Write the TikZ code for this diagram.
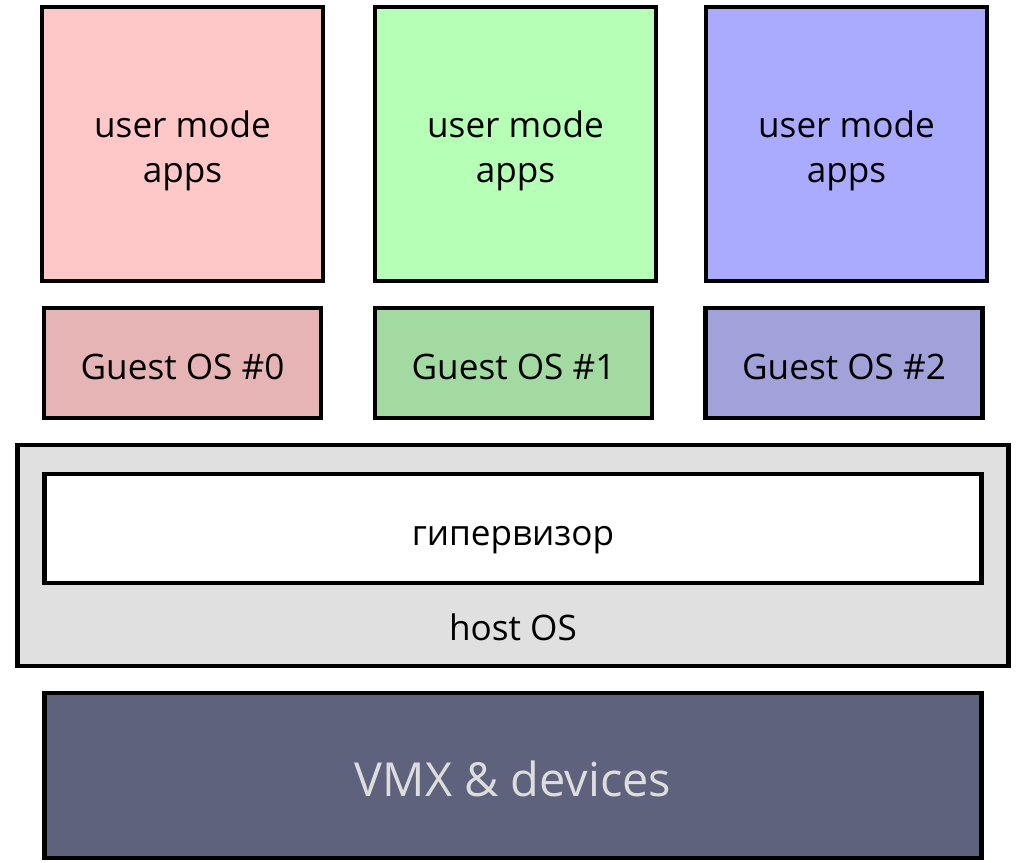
\documentclass[tikz,border=0pt]{standalone}
\usepackage{fontspec}
\setmainfont{Open Sans}
\definecolor{apps0}{RGB}{255,200,200}
\definecolor{apps1}{RGB}{182,255,182}
\definecolor{apps2}{RGB}{170,170,255}
\definecolor{guest0}{RGB}{230,180,180}
\definecolor{guest1}{RGB}{162,218,162}
\definecolor{guest2}{RGB}{162,162,218}
\definecolor{hostgray}{RGB}{224,224,224}
\definecolor{vmxblue}{RGB}{95,98,124}
\definecolor{vmxtext}{RGB}{221,221,221}
\begin{document}
\begin{tikzpicture}[x=0.02cm, y=-0.02cm,
  box/.style={draw=black, line width=2.8pt, inner sep=0pt, align=center, font=\fontsize{20}{25.6}\selectfont},
  linebox/.style={box, text height=18.8pt, text depth=0pt},
  appsbox/.style={box, minimum width=5.62cm, minimum height=5.48cm},
  guestbox/.style={linebox, minimum width=5.54cm, minimum height=2.2cm}]
\useasboundingbox (0,0) rectangle (1024,862);

\node[appsbox, fill=apps0] (apps0) at (182.5,144) {\rule{0pt}{1.15em}user mode\\apps};
\node[appsbox, fill=apps1] (apps1) at (515.5,144) {\rule{0pt}{1.15em}user mode\\apps};
\node[appsbox, fill=apps2] (apps2) at (846.5,144) {\rule{0pt}{1.15em}user mode\\apps};

\node[guestbox, fill=guest0] (guest0) at (182.5,363) {Guest OS \#0};
\node[guestbox, fill=guest1] (guest1) at (513.5,363) {Guest OS \#1};
\node[guestbox, fill=guest2] (guest2) at (844,363) {Guest OS \#2};

\node[box, fill=hostgray, minimum width=19.84cm, minimum height=4.42cm] (host) at (513,555.5) {};
\node[linebox, text height=19.3pt, fill=white, minimum width=18.76cm, minimum height=2.18cm] (hyp) at (513,528.5) {гипервизор};
\node[font=\fontsize{20}{25.6}\selectfont, inner sep=0pt] (hostlabel) at (513,627) {host OS};

\node[linebox, fill=vmxblue, text=vmxtext, minimum width=18.76cm, minimum height=3.3cm, font=\fontsize{26.7}{32}\selectfont, text height=24pt] (vmx) at (513,775.5) {VMX \& devices};
\end{tikzpicture}
\end{document}
